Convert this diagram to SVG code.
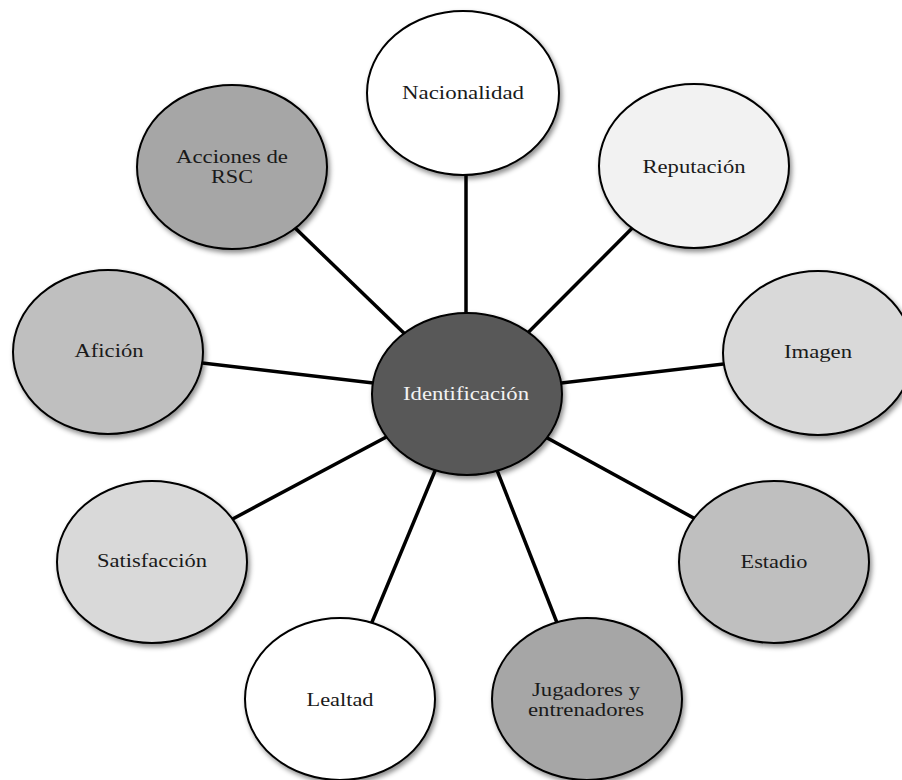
<svg xmlns="http://www.w3.org/2000/svg" width="902" height="780" viewBox="0 0 902 780">
<style>
.n{stroke:#000;stroke-width:2;filter:url(#sh)}
.t{font-family:"Liberation Serif","Times New Roman",serif;font-size:19.5px;fill:#1a1a1a;text-anchor:middle}
.c line{stroke:#000;stroke-width:3.5}
</style>
<defs>
<filter id="sh" x="-20%" y="-20%" width="140%" height="140%">
<feDropShadow dx="2" dy="3" stdDeviation="2.5" flood-color="#000" flood-opacity="0.45"/>
</filter>
</defs>
<rect width="902" height="780" fill="#fff"/>
<g id="connectors" class="c">
<line x1="466" y1="394" x2="466" y2="93"/>
<line x1="467" y1="394" x2="694" y2="166"/>
<line x1="467" y1="394" x2="818" y2="353"/>
<line x1="467" y1="394" x2="774" y2="562"/>
<line x1="467" y1="394" x2="587" y2="699"/>
<line x1="467" y1="394" x2="340" y2="699"/>
<line x1="467" y1="394" x2="152" y2="562"/>
<line x1="467" y1="394" x2="108" y2="352"/>
<line x1="467" y1="394" x2="232" y2="167"/>
</g>
<g id="nacionalidad"><ellipse class="n" cx="463" cy="93" rx="96" ry="82" fill="#ffffff"/><text class="t" x="463" y="99" textLength="122" lengthAdjust="spacingAndGlyphs">Nacionalidad</text></g>
<g id="reputacion"><ellipse class="n" cx="694" cy="166" rx="95" ry="82" fill="#f2f2f2"/><text class="t" x="694" y="173" textLength="103" lengthAdjust="spacingAndGlyphs">Reputación</text></g>
<g id="imagen"><ellipse class="n" cx="818" cy="353" rx="95" ry="82" fill="#d9d9d9"/><text class="t" x="818" y="358" textLength="68" lengthAdjust="spacingAndGlyphs">Imagen</text></g>
<g id="estadio"><ellipse class="n" cx="774" cy="562" rx="95" ry="81" fill="#bfbfbf"/><text class="t" x="774" y="568" textLength="67" lengthAdjust="spacingAndGlyphs">Estadio</text></g>
<g id="jugadores"><ellipse class="n" cx="587" cy="699" rx="95" ry="81" fill="#a6a6a6"/><text class="t" x="586" y="696" textLength="108" lengthAdjust="spacingAndGlyphs">Jugadores y</text><text class="t" x="586" y="716" textLength="116" lengthAdjust="spacingAndGlyphs">entrenadores</text></g>
<g id="lealtad"><ellipse class="n" cx="340" cy="699" rx="95" ry="81" fill="#ffffff"/><text class="t" x="340" y="706" textLength="67" lengthAdjust="spacingAndGlyphs">Lealtad</text></g>
<g id="satisfaccion"><ellipse class="n" cx="152" cy="562" rx="95" ry="81" fill="#d9d9d9"/><text class="t" x="152" y="567" textLength="110" lengthAdjust="spacingAndGlyphs">Satisfacción</text></g>
<g id="aficion"><ellipse class="n" cx="108" cy="352" rx="95" ry="82" fill="#bfbfbf"/><text class="t" x="109" y="357" textLength="69" lengthAdjust="spacingAndGlyphs">Afición</text></g>
<g id="acciones"><ellipse class="n" cx="232" cy="167" rx="95" ry="82" fill="#a6a6a6"/><text class="t" x="232" y="163" textLength="112" lengthAdjust="spacingAndGlyphs">Acciones de</text><text class="t" x="232" y="183" textLength="42" lengthAdjust="spacingAndGlyphs">RSC</text></g>
<g id="identificacion"><ellipse class="n" cx="467" cy="394" rx="95" ry="81" fill="#595959"/><text class="t" x="466" y="400" textLength="126" lengthAdjust="spacingAndGlyphs" style="fill:#f2f2f2">Identificación</text></g>
</svg>
